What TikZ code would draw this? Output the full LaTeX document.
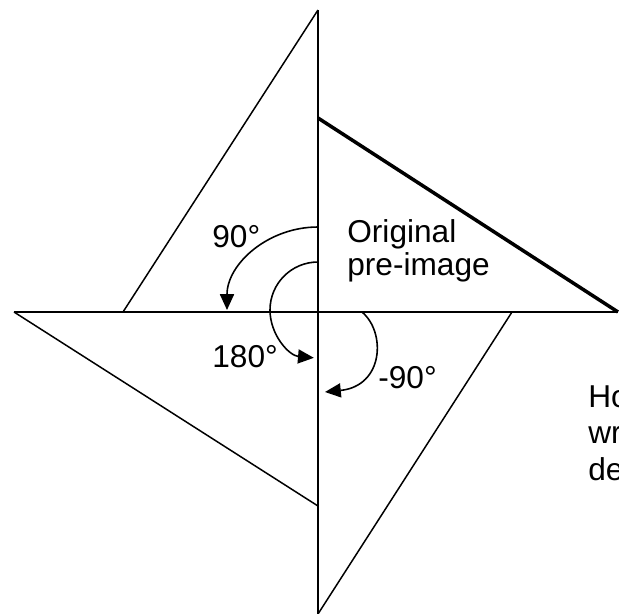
\documentclass[tikz,border=0pt]{standalone}
\usepackage{fontspec}
\setmainfont{Liberation Sans}
\usetikzlibrary{arrows.meta}

\begin{document}
\begin{tikzpicture}[x=0.02cm,y=0.02cm,
  leg/.style={line width=1.1pt},
  edge/.style={line width=0.85pt},
  orig/.style={line width=2pt},
  turn/.style={-{Triangle[length=9pt,width=8pt]},line width=0.9pt},
  lbl/.style={font=\fontsize{18}{21}\selectfont,anchor=base west,inner sep=0pt}
]
\useasboundingbox (-318,-301) rectangle (301,312);
\clip (-318,-301) rectangle (301,312);

\coordinate (O) at (0,0);
% Original pre-image
\coordinate (pTop) at (0,194);
\coordinate (pRight) at (300,0);
% 90 degree image
\coordinate (aLeft) at (-195,0);
\coordinate (aTop) at (0,302);
% 180 degree image
\coordinate (bLeft) at (-304,0);
\coordinate (bBot) at (0,-194);
% -90 degree image
\coordinate (cRight) at (194,0);
\coordinate (cBot) at (0,-302);

% Shared legs
\draw[leg] (bLeft) -- (pRight);
\draw[leg] (aTop) -- (cBot);

% Hypotenuses
\draw[orig] (pTop) -- (pRight);
\draw[edge] (aLeft) -- (aTop);
\draw[edge] (bLeft) -- (bBot);
\draw[edge] (cRight) -- (cBot);

% Turning arrows
\coordinate (s90) at (0,85);
\draw[turn] (s90) arc[start angle=90,end angle=180,x radius=91,y radius=83];
\coordinate (s180) at (0,50);
\draw[turn] (s180) arc[start angle=90,end angle=265,radius=48];
\coordinate (sm90) at (44,0);
\coordinate (em90) at (7,-80);
\draw[turn] (sm90) .. controls (68,-20) and (66,-74) .. (em90);

% Labels
\node[lbl] (l90)   at (-106,65)  {90°};
\node[lbl] (lorig) at (29,70)    {Original};
\node[lbl] (lpre)  at (29,37)    {pre-image};
\node[lbl] (l180)  at (-106,-55) {180°};
\node[lbl] (lm90)  at (60,-76)   {-90°};

% Cut-off question
\node[lbl] (q1) at (270,-95)  {Ho};
\node[lbl] (q2) at (270,-131) {wr};
\node[lbl] (q3) at (270,-168) {de};

\end{tikzpicture}
\end{document}
